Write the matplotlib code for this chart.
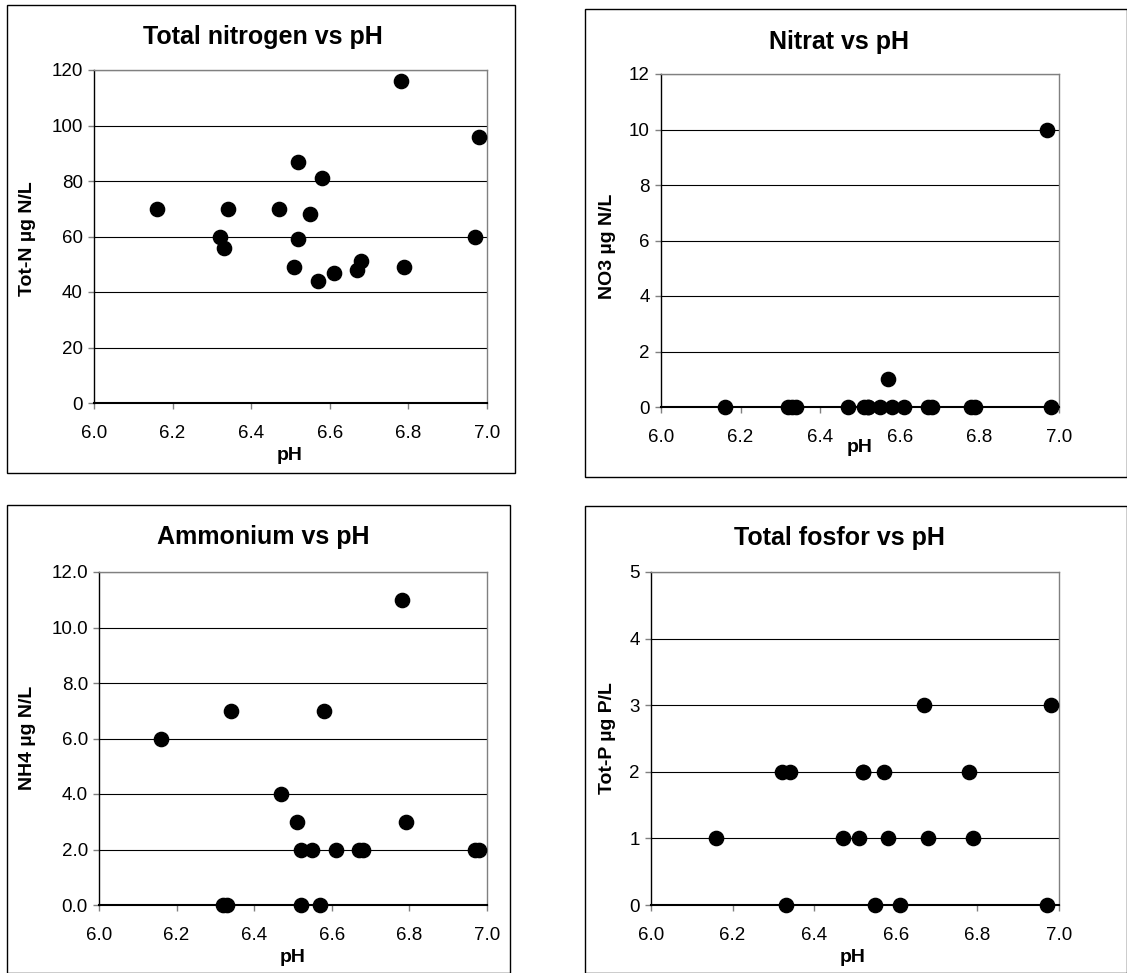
import numpy as np
import matplotlib.pyplot as plt
from matplotlib.patches import Rectangle

plt.rcParams['font.family'] = ['Liberation Sans', 'DejaVu Sans']

# sample data, one entry per lake
ph = [6.16, 6.32, 6.33, 6.34, 6.47, 6.51, 6.52, 6.52, 6.55,
      6.57, 6.58, 6.61, 6.67, 6.68, 6.78, 6.79, 6.97, 6.98]
tot_n = [70, 60, 56, 70, 70, 49, 87, 59, 68,
         44, 81, 47, 48, 51, 116, 49, 60, 96]
no3 = [0, 0, 0, 0, 0, 0, 0, 0, 0,
       1, 0, 0, 0, 0, 0, 0, 10, 0]
nh4 = [6, 0, 0, 7, 4, 3, 2, 0, 2,
       0, 7, 2, 2, 2, 11, 3, 2, 2]
tot_p = [1, 2, 0, 2, 1, 1, 2, 2, 0,
         2, 1, 0, 3, 1, 2, 1, 0, 3]

W, H = 1127, 973
fig = plt.figure(figsize=(W / 100, H / 100), dpi=100)


def fx(x):
    return x / W


def fy(y):
    return 1 - y / H


panels = [
    # frame box, axes box, title (x, y), pH label (x, y), ylabel (x, y)
    dict(frame=(7, 5, 515, 473), box=(94, 70, 487, 403),
         title='Total nitrogen vs pH', t=(263, 37), xl=(290, 455),
         ylabel='Tot-N µg N/L', yl=(27, 239), y=tot_n, ymax=120, step=20, fmt='{:.0f}'),
    dict(frame=(585, 9, 1127, 477), box=(661, 74, 1059, 407),
         title='Nitrat vs pH', t=(839, 42), xl=(860, 447),
         ylabel='NO3 µg N/L', yl=(607, 246), y=no3, ymax=12, step=2, fmt='{:.0f}'),
    dict(frame=(7, 505, 510, 973), box=(99, 572, 487, 905),
         title='Ammonium vs pH', t=(263, 537), xl=(293, 957),
         ylabel='NH4 µg N/L', yl=(27, 738), y=nh4, ymax=12, step=2, fmt='{:.1f}'),
    dict(frame=(585, 506, 1127, 973), box=(651, 572, 1059, 905),
         title='Total fosfor vs pH', t=(839, 538), xl=(853, 957),
         ylabel='Tot-P µg P/L', yl=(607, 738), y=tot_p, ymax=5, step=1, fmt='{:.0f}'),
]

for p in panels:
    x0, y0, x1, y1 = p['frame']
    fig.patches.append(Rectangle((fx(x0), fy(y1)), (x1 - x0) / W, (y1 - y0) / H,
                                 transform=fig.transFigure, fill=False,
                                 edgecolor='black', lw=1.0))
    x0, y0, x1, y1 = p['box']
    ax = fig.add_axes([fx(x0), fy(y1), (x1 - x0) / W, (y1 - y0) / H])
    ax.scatter(ph, p['y'], s=105, color='black', zorder=3, clip_on=False)
    ax.set_xlim(6.0, 7.0)
    ax.set_ylim(0, p['ymax'])
    xt = np.arange(6.0, 7.01, 0.2)
    ax.set_xticks(xt)
    ax.set_xticklabels([f'{v:.1f}' for v in xt])
    yt = np.arange(0, p['ymax'] + p['step'] / 2, p['step'])
    ax.set_yticks(yt)
    ax.set_yticklabels([p['fmt'].format(v) for v in yt])
    ax.grid(axis='y', color='black', lw=0.8)
    ax.set_axisbelow(True)
    ax.tick_params(direction='out', length=4.5, width=1, color='#808080',
                   labelsize=13.5)
    ax.tick_params(axis='x', pad=11.5)
    ax.tick_params(axis='y', pad=3.5)
    for side in ['top', 'right']:
        ax.spines[side].set_color('#808080')
        ax.spines[side].set_linewidth(1)
    ax.spines['left'].set_linewidth(1)
    ax.spines['bottom'].set_linewidth(1.5)

    fig.text(fx(p['t'][0]), fy(p['t'][1]), p['title'], fontsize=18,
             fontweight='bold', ha='center', va='center')
    fig.text(fx(p['xl'][0]), fy(p['xl'][1]), 'pH', fontsize=14,
             fontweight='bold', ha='center', va='center')
    fig.text(fx(p['yl'][0]), fy(p['yl'][1]), p['ylabel'], fontsize=14,
             fontweight='bold', ha='center', va='center', rotation=90)

fig.savefig('out.png', dpi=100)
